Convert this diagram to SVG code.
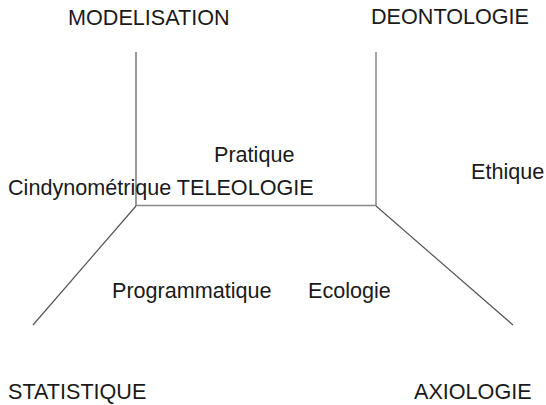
<svg xmlns="http://www.w3.org/2000/svg" width="546" height="405" viewBox="0 0 546 405">
<style>
text{font-family:"Liberation Sans",Arial,sans-serif;font-size:21.6px;fill:#1a1a1a}
.ln{stroke:#555;stroke-width:1.2;fill:none}
.lt{stroke:#888;stroke-width:1.5;fill:none}
</style>
<rect width="546" height="405" fill="#fff"/>
<g id="connectors">
<line class="ln" x1="136" y1="52" x2="136" y2="206"/>
<line class="lt" x1="376" y1="52" x2="376" y2="206"/>
<line class="lt" x1="136" y1="205.5" x2="376" y2="205.5"/>
<line class="ln" x1="136" y1="206" x2="33" y2="325"/>
<line class="ln" x1="376" y1="206" x2="513" y2="325"/>
</g>
<g id="modelisation"><text x="68" y="25">MODELISATION</text></g>
<g id="deontologie"><text x="371" y="24">DEONTOLOGIE</text></g>
<g id="pratique"><text x="214" y="162">Pratique</text></g>
<g id="ethique"><text x="471" y="179">Ethique</text></g>
<g id="teleologie"><text x="8" y="195">Cindynométrique TELEOLOGIE</text></g>
<g id="programmatique"><text x="112" y="298">Programmatique</text></g>
<g id="ecologie"><text x="308" y="298">Ecologie</text></g>
<g id="statistique"><text x="8" y="399">STATISTIQUE</text></g>
<g id="axiologie"><text x="414" y="399">AXIOLOGIE</text></g>
</svg>
